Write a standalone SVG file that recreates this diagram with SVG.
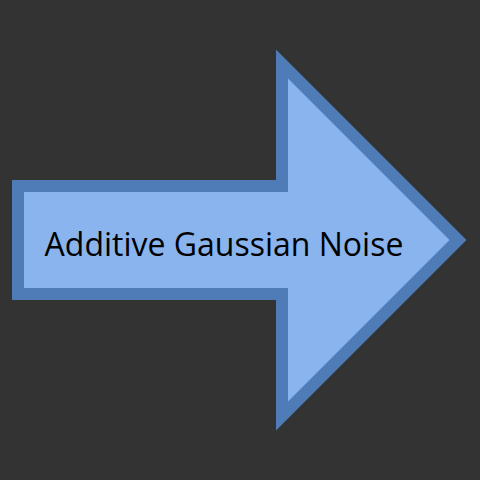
<svg xmlns="http://www.w3.org/2000/svg" width="480" height="480" viewBox="0 0 480 480">
<style>
.arrow{fill:#8ab4ee;stroke:#4f7bb7;stroke-width:12;stroke-linejoin:miter;stroke-miterlimit:10}
.lbl{font-family:"Open Sans","Noto Sans",sans-serif;font-size:32px;fill:#000}
</style>
<rect width="480" height="480" fill="#333333"/>
<g id="arrow-node">
<polygon class="arrow" points="18,186 282,186 282,64 458,240 282,416 282,294 18,294"/>
<text class="lbl" x="224" y="256" text-anchor="middle">Additive Gaussian Noise</text>
</g>
<g id="connectors"></g>
</svg>
